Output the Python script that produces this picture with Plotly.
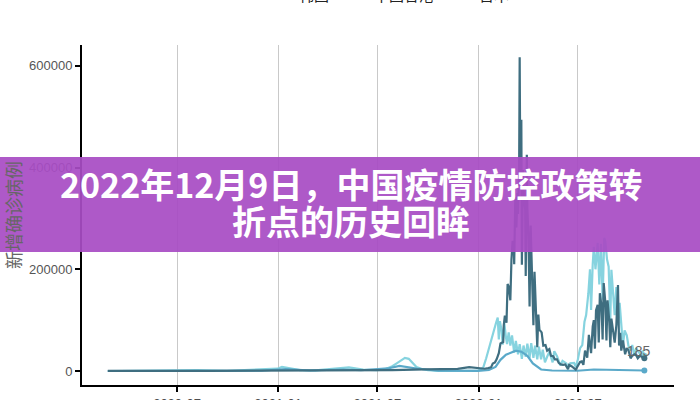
import plotly.graph_objects as go

# ---------------- data ----------------
series_names = ["韩国", "中国香港", "日本"]
series_colors = ["#3f6e80", "#5aa9c9", "#86d3df"]

kr_dates = ["2020-02-26", "2020-03-05", "2020-04-01", "2020-08-27", "2020-12-25", "2021-04-20",
            "2021-07-28", "2021-09-25", "2021-11-24", "2021-12-15", "2022-01-05", "2022-01-12",
            "2022-01-19", "2022-01-24", "2022-01-27", "2022-01-31", "2022-02-03", "2022-02-07",
            "2022-02-10", "2022-02-13", "2022-02-15", "2022-02-16", "2022-02-18", "2022-02-21",
            "2022-02-23", "2022-02-25", "2022-02-28", "2022-03-02", "2022-03-04", "2022-03-06",
            "2022-03-07", "2022-03-09", "2022-03-11", "2022-03-13", "2022-03-14", "2022-03-16",
            "2022-03-17", "2022-03-18", "2022-03-19", "2022-03-20", "2022-03-21", "2022-03-23",
            "2022-03-24", "2022-03-25", "2022-03-27", "2022-03-28", "2022-03-30", "2022-03-31",
            "2022-04-02", "2022-04-04", "2022-04-06", "2022-04-08", "2022-04-11", "2022-04-13",
            "2022-04-15", "2022-04-18", "2022-04-20", "2022-04-22", "2022-04-26", "2022-04-29",
            "2022-05-03", "2022-05-06", "2022-05-10", "2022-05-13", "2022-05-17", "2022-05-20",
            "2022-05-24", "2022-05-27", "2022-05-31", "2022-06-04", "2022-06-08", "2022-06-13",
            "2022-06-15", "2022-06-20", "2022-06-27", "2022-07-01", "2022-07-05", "2022-07-08",
            "2022-07-11", "2022-07-14", "2022-07-18", "2022-07-21", "2022-07-25", "2022-07-28",
            "2022-07-30", "2022-08-01", "2022-08-03", "2022-08-06", "2022-08-08", "2022-08-10",
            "2022-08-13", "2022-08-15", "2022-08-17", "2022-08-20", "2022-08-22", "2022-08-24",
            "2022-08-27", "2022-08-29", "2022-08-31", "2022-09-03", "2022-09-06", "2022-09-09",
            "2022-09-12", "2022-09-14", "2022-09-16", "2022-09-18", "2022-09-21", "2022-09-25",
            "2022-09-28", "2022-10-01", "2022-10-05", "2022-10-08", "2022-10-12", "2022-10-15",
            "2022-10-18", "2022-10-22", "2022-10-26", "2022-10-30"]
kr_values = [300, 500, 100, 440, 1240, 700,
             1890, 3270, 4110, 7800, 4400, 4500,
             5800, 7500, 14500, 17000, 22900, 35000,
             54000, 56000, 57000, 90000, 109000, 95000,
             171000, 166000, 139000, 219000, 254000, 254000,
             210000, 342000, 282000, 350000, 309000, 400000,
             617000, 407000, 381000, 494000, 209000, 395000,
             339000, 336000, 319000, 187000, 425000, 320000,
             264000, 127000, 286000, 205000, 90000, 195000,
             125000, 47000, 111000, 81000, 76000, 50000,
             51000, 40000, 43000, 30000, 29000, 23000,
             23000, 16000, 13000, 12000, 13000, 3400,
             12000, 9000, 3000, 10000, 18000, 19000,
             12000, 40000, 26000, 71000, 35000, 88000,
             100000, 44000, 119000, 130000, 56000, 153000,
             128000, 62000, 173000, 134000, 60000, 139000,
             100000, 47000, 103000, 80000, 56000, 90000,
             169000, 50000, 75000, 40000, 60000, 33000,
             45000, 41000, 25000, 30000, 33000, 31000,
             25000, 30000, 28000, 25000]

hk_dates = ["2020-02-26", "2020-12-01", "2021-01-15", "2021-03-01", "2021-05-01", "2021-06-01",
            "2021-07-20", "2021-08-10", "2021-09-10", "2021-10-20", "2021-12-31", "2022-01-20",
            "2022-02-01", "2022-02-10", "2022-02-20", "2022-03-01", "2022-03-10", "2022-03-20",
            "2022-03-31", "2022-04-10", "2022-04-25", "2022-05-15", "2022-06-30", "2022-07-30",
            "2022-08-30", "2022-10-30"]
hk_values = [0, 500, 4000, 1000, 3000, 1500,
             5000, 10000, 5000, 500, 300, 2000,
             8000, 22000, 32000, 36000, 40000, 38000,
             30000, 15000, 3000, 1000, 500, 3000,
             2000, 1000]

jp_dates = ["2020-02-26", "2020-04-11", "2020-05-15", "2020-08-07", "2020-09-30", "2020-11-20",
            "2020-12-31", "2021-01-08", "2021-01-20", "2021-02-10", "2021-03-10", "2021-04-20",
            "2021-05-10", "2021-06-05", "2021-06-30", "2021-07-15", "2021-07-28", "2021-08-05",
            "2021-08-13", "2021-08-20", "2021-08-27", "2021-09-03", "2021-09-10", "2021-09-20",
            "2021-10-01", "2021-10-20", "2021-11-20", "2021-12-20", "2021-12-31", "2022-01-05",
            "2022-01-10", "2022-01-15", "2022-01-20", "2022-01-25", "2022-01-29", "2022-02-02",
            "2022-02-05", "2022-02-07", "2022-02-09", "2022-02-12", "2022-02-14", "2022-02-17",
            "2022-02-20", "2022-02-22", "2022-02-25", "2022-02-28", "2022-03-03", "2022-03-07",
            "2022-03-10", "2022-03-14", "2022-03-17", "2022-03-21", "2022-03-24", "2022-03-28",
            "2022-03-31", "2022-04-04", "2022-04-07", "2022-04-11", "2022-04-14", "2022-04-18",
            "2022-04-21", "2022-04-25", "2022-04-28", "2022-05-02", "2022-05-06", "2022-05-10",
            "2022-05-16", "2022-05-19", "2022-05-24", "2022-05-30", "2022-06-03", "2022-06-10",
            "2022-06-13", "2022-06-17", "2022-06-24", "2022-06-27", "2022-07-01", "2022-07-05",
            "2022-07-09", "2022-07-13", "2022-07-16", "2022-07-20", "2022-07-23", "2022-07-25",
            "2022-07-28", "2022-07-30", "2022-08-02", "2022-08-04", "2022-08-06", "2022-08-09",
            "2022-08-12", "2022-08-15", "2022-08-18", "2022-08-20", "2022-08-23", "2022-08-26",
            "2022-08-29", "2022-08-31", "2022-09-03", "2022-09-06", "2022-09-09", "2022-09-12",
            "2022-09-15", "2022-09-18", "2022-09-21", "2022-09-24", "2022-09-28", "2022-10-01",
            "2022-10-05", "2022-10-08", "2022-10-12", "2022-10-15", "2022-10-19", "2022-10-23",
            "2022-10-27", "2022-10-30"]
jp_values = [0, 700, 50, 1600, 500, 2400,
             4500, 7900, 5500, 1700, 1300, 5000,
             7000, 2600, 1800, 3400, 9500, 15000,
             20000, 25800, 24000, 16000, 8000, 4000,
             1500, 400, 100, 200, 500, 2600,
             8000, 25000, 46000, 62000, 84000, 95000,
             105000, 62000, 98000, 80000, 52000, 94000,
             66000, 53000, 76000, 50000, 70000, 36000,
             59000, 33000, 53000, 24000, 50000, 28000,
             54000, 26000, 55000, 26000, 50000, 23000,
             48000, 23000, 42000, 17000, 28000, 38000,
             17000, 39000, 29000, 11000, 20000, 15000,
             6000, 15000, 16000, 8000, 23000, 45000,
             51000, 97000, 110000, 152000, 200000, 120000,
             210000, 244000, 200000, 238000, 252000, 170000,
             250000, 140000, 262000, 255000, 220000, 205000,
             100000, 199000, 160000, 110000, 165000, 90000,
             134000, 95000, 50000, 80000, 70000, 50000,
             40000, 51000, 30000, 45000, 38000, 32000,
             40000, 30000]

x_tick_vals = ["2020-07-01", "2021-01-01", "2021-07-01", "2022-01-01", "2022-07-01"]
x_tick_text = ["2020-07", "2021-01", "2021-07", "2022-01", "2022-07"]
y_tick_vals = [0, 200000, 400000, 600000]
y_tick_text = ["0", "200000", "400000", "600000"]

y_title = "新增确诊病例"
banner_line1 = "2022年12月9日，中国疫情防控政策转"
banner_line2 = "折点的历史回眸"
point_label = "185"

# ---------------- figure ----------------
fig = go.Figure()
all_dates = [kr_dates, hk_dates, jp_dates]
all_values = [kr_values, hk_values, jp_values]
order = [2, 1, 0]  # draw light first, dark on top
for i in order:
    fig.add_trace(go.Scatter(
        x=all_dates[i], y=all_values[i], name=series_names[i],
        mode="lines", line=dict(color=series_colors[i], width=2.2),
        showlegend=False,
    ))
    fig.add_trace(go.Scatter(
        x=[all_dates[i][-1]], y=[all_values[i][-1]], mode="markers",
        marker=dict(color=series_colors[i], size=6), showlegend=False, hoverinfo="skip",
    ))
# legend entries (mostly cut off at the top)
for i in range(3):
    fig.add_trace(go.Scatter(
        x=[None], y=[None], name=series_names[i], mode="lines",
        line=dict(color=series_colors[i], width=3), showlegend=True,
    ))

L, R, T, B = 82, 26, 45, 15
W, H = 700, 400
pw = W - L - R
ph = H - T - B

fig.update_layout(
    width=W, height=H,
    margin=dict(l=L, r=R, t=T, b=B, autoexpand=False),
    paper_bgcolor="white", plot_bgcolor="white",
    font=dict(family="Noto Sans CJK SC, Arial, sans-serif", color="#4d4d4d"),
    showlegend=True,
    legend=dict(orientation="h", x=0.515, xanchor="center", y=1.145, yanchor="middle",
                font=dict(size=15, color="#222"), bgcolor="rgba(0,0,0,0)"),
    xaxis=dict(
        type="date", range=["2020-01-10", "2022-12-23"],
        tickvals=x_tick_vals, ticktext=x_tick_text,
        showgrid=True, gridcolor="#c9c9c9", gridwidth=1,
        showline=True, linecolor="black", linewidth=2,
        ticks="outside", ticklen=5, tickcolor="black", tickwidth=1.5,
        tickfont=dict(size=13, color="#4d4d4d", family="Arial, sans-serif"),
        zeroline=False,
    ),
    yaxis=dict(
        range=[-27500, 641000],
        tickvals=y_tick_vals, ticktext=y_tick_text,
        showgrid=False, zeroline=False,
        showline=True, linecolor="black", linewidth=2,
        ticks="outside", ticklen=5, tickcolor="black", tickwidth=1.5,
        tickfont=dict(size=13, color="#555", family="Arial, sans-serif"),
        title=dict(text=y_title, font=dict(size=18, color="#666"), standoff=6),
    ),
)

# "185" label near the end
fig.add_annotation(x="2022-09-25", y=20000, text=point_label, showarrow=False,
                   font=dict(size=14, color="#666", family="Arial, sans-serif"),
                   xanchor="left", yanchor="bottom")

# purple banner across the whole picture
y_top_px, y_bot_px = 157, 252
fig.add_shape(type="rect", xref="paper", yref="paper",
              x0=-L / pw, x1=(W - L) / pw,
              y0=(H - B - y_bot_px) / ph, y1=(H - B - y_top_px) / ph,
              fillcolor="rgba(168,76,196,0.93)", line=dict(width=0), layer="above")

cx = (351 - L) / pw
fig.add_annotation(xref="paper", yref="paper", x=cx, y=(H - B - 183) / ph,
                   text="<b>" + banner_line1 + "</b>", showarrow=False,
                   font=dict(size=34, color="white", family="Noto Sans CJK SC"),
                   xanchor="center", yanchor="middle")
fig.add_annotation(xref="paper", yref="paper", x=cx, y=(H - B - 221) / ph,
                   text="<b>" + banner_line2 + "</b>", showarrow=False,
                   font=dict(size=34, color="white", family="Noto Sans CJK SC"),
                   xanchor="center", yanchor="middle")

fig.write_html("out.html", config={"displayModeBar": False},
               post_script="document.body.style.margin='0';document.body.style.overflow='hidden';")
